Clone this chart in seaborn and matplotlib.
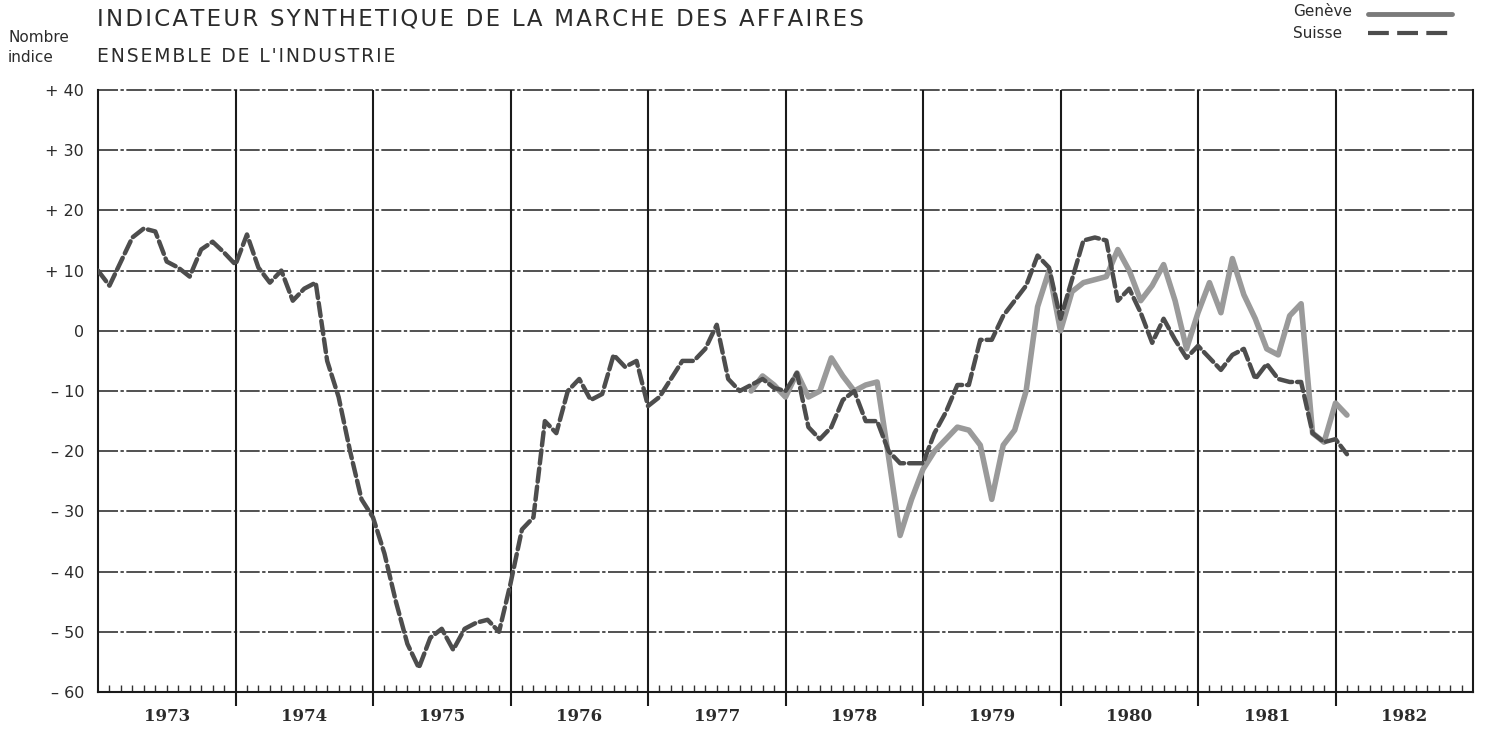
import matplotlib
matplotlib.use("Agg")
import matplotlib.pyplot as plt
import matplotlib.transforms as mtransforms
from matplotlib.lines import Line2D
import numpy as np
import pandas as pd
import seaborn as sns

# --- data (monthly index values) ---
years = list(range(1973, 1983))
year_labels = [str(y) for y in years]
y_ticks = [40, 30, 20, 10, 0, -10, -20, -30, -40, -50, -60]
y_labels = ["+ 40", "+ 30", "+ 20", "+ 10", "0", "– 10", "– 20", "– 30", "– 40", "– 50", "– 60"]

# Suisse, from January 1973
suisse_1973 = [10, 7.5, 11.5, 15.5, 17, 16.5, 11.5, 10.5, 9, 13.5, 14.8, 13]
suisse_1974 = [11, 16, 10.5, 8, 10, 5, 7, 8, -5, -11, -20, -28]
suisse_1975 = [-31, -37, -45, -52, -56, -51, -49.5, -53, -49.5, -48.5, -48, -50]
suisse_1976 = [-42, -33, -31, -15, -17, -10, -8, -11.5, -10.5, -4, -6, -5]
suisse_1977 = [-12.5, -11, -8, -5, -5, -3, 1, -8, -10, -9, -8, -9.5]
suisse_1978 = [-10, -7, -16, -18, -16, -11.5, -10, -15, -15, -20, -22, -22]
suisse_1979 = [-22, -17, -13.5, -9, -9, -1.5, -1.5, 2.5, 5, 7.5, 12.5, 10.5]
suisse_1980 = [2, 8.5, 15, 15.5, 15, 5, 7, 3, -2, 2, -1.5, -4.5]
suisse_1981 = [-2.5, -4.5, -6.5, -4, -3, -8, -5.5, -8, -8.5, -8.5, -17, -18.5]
suisse_1982 = [-18, -20.5]

# Genève, from October 1977
geneve_1977 = [-10, -7.5, -9]
geneve_1978 = [-11, -7, -11, -10, -4.5, -7.5, -10, -9, -8.5, -21, -34, -28]
geneve_1979 = [-23, -20, -18, -16, -16.5, -19, -28, -19, -16.5, -10, 4, 10]
geneve_1980 = [0, 6.5, 8, 8.5, 9, 13.5, 10, 5, 7.5, 11, 5, -3]
geneve_1981 = [3, 8, 3, 12, 6, 2, -3, -4, 2.5, 4.5, -17, -18.5]
geneve_1982 = [-12, -14]

suisse = (suisse_1973 + suisse_1974 + suisse_1975 + suisse_1976 + suisse_1977
          + suisse_1978 + suisse_1979 + suisse_1980 + suisse_1981 + suisse_1982)
geneve = geneve_1977 + geneve_1978 + geneve_1979 + geneve_1980 + geneve_1981 + geneve_1982

df_ch = pd.DataFrame({"date": 1973 + np.arange(len(suisse)) / 12, "indice": suisse})
df_ge = pd.DataFrame({"date": 1977 + (9 + np.arange(len(geneve))) / 12, "indice": geneve})

sns.set_style("white")
plt.rcParams["font.family"] = ["DejaVu Sans"]

TXT = "#2b2b2b"
W, H = 1485, 729
fig = plt.figure(figsize=(W / 100, H / 100), dpi=100)
ax = fig.add_axes([98 / W, 1 - 692 / H, (1473 - 98) / W, (692 - 90) / H])

# grid
for v in range(-50, 41, 10):
    ax.axhline(v, color="#333333", lw=1.2, ls=(0, (12, 1.5, 2, 1.5)), zorder=1, clip_on=False)
for yr in years[1:]:
    ax.axvline(yr, color="#1a1a1a", lw=1.5, zorder=1)

sns.lineplot(data=df_ge, x="date", y="indice", ax=ax, color="#9a9a9a", lw=4.0,
             solid_joinstyle="round", solid_capstyle="round", zorder=3)
sns.lineplot(data=df_ch, x="date", y="indice", ax=ax, color="#4d4d4d", lw=3.2,
             linestyle=(0, (3.0, 1.1)), dash_capstyle="round", zorder=4)

ax.set_xlim(1973, 1983)
ax.set_ylim(-60, 40)
ax.set_xlabel("")
ax.set_ylabel("")

for s in ["left", "bottom", "right"]:
    ax.spines[s].set_color("#1a1a1a")
    ax.spines[s].set_linewidth(1.5)
ax.spines["top"].set_visible(False)

ax.set_xticks(years[1:])
ax.set_xticklabels([])
months = [y + m / 12 for y in years for m in range(1, 12)]
ax.set_xticks(months, minor=True)
ax.tick_params(axis="x", which="major", direction="out", length=10, width=1.5,
               color="#1a1a1a", bottom=True)
ax.tick_params(axis="x", which="minor", direction="in", length=5, width=1.0,
               color="#333333", bottom=True)

ax.set_yticks(y_ticks)
ax.set_yticklabels(y_labels)
ax.tick_params(axis="y", length=0, pad=10, labelsize=11.5, labelcolor=TXT)

trans = mtransforms.blended_transform_factory(ax.transData, ax.transAxes)
for yr, lab in zip(years, year_labels):
    ax.text(yr + 0.5, -0.04, lab, transform=trans, ha="center", va="center",
            fontsize=12, fontweight="bold", family="DejaVu Serif", color=TXT)


def spaced(s):
    return "\u200a".join(s)


fig.text(97 / W, 1 - 19 / H, spaced("INDICATEUR SYNTHETIQUE DE LA MARCHE DES AFFAIRES"),
         fontsize=16.5, color=TXT, va="center", ha="left")
fig.text(97 / W, 1 - 57 / H, spaced("ENSEMBLE DE L'INDUSTRIE"),
         fontsize=13.5, color=TXT, va="center", ha="left")
fig.text(8 / W, 1 - 38 / H, "Nombre", fontsize=11, color=TXT, va="center", ha="left")
fig.text(8 / W, 1 - 57 / H, "indice", fontsize=11, color=TXT, va="center", ha="left")

# legend
fig.text(1293 / W, 1 - 12 / H, "Genève", fontsize=11, color=TXT, va="center", ha="left")
fig.text(1293 / W, 1 - 33 / H, "Suisse", fontsize=11, color=TXT, va="center", ha="left")
fig.add_artist(Line2D([1368 / W, 1452 / W], [1 - 14 / H] * 2, color="#7a7a7a", lw=3.5))
fig.add_artist(Line2D([1368 / W, 1452 / W], [1 - 33 / H] * 2, color="#4d4d4d", lw=3.0,
                      linestyle=(0, (5, 2))))

fig.savefig("out.png", dpi=100, facecolor="white")
